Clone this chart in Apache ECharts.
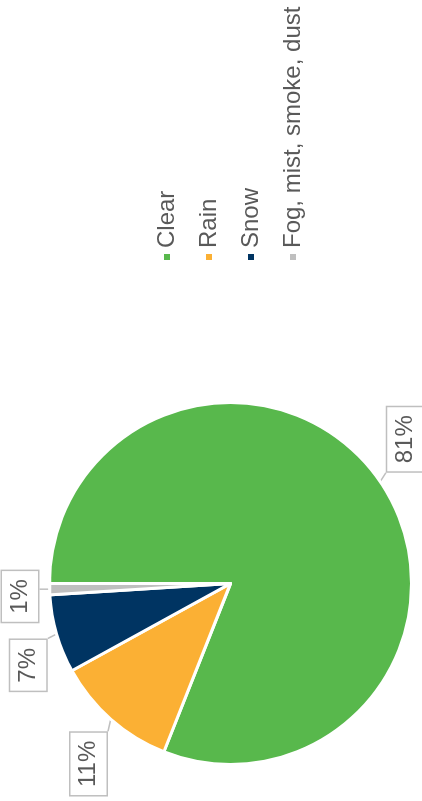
<!DOCTYPE html>
<html>
<head>
<meta charset="utf-8">
<script src="https://cdn.jsdelivr.net/npm/echarts@6/dist/echarts.min.js"></script>
<style>
  html, body { margin: 0; padding: 0; background: #ffffff; overflow: hidden; }
  #page { position: relative; width: 422px; height: 801px; overflow: hidden; }
  /* The chart is laid out landscape and turned a quarter turn counter-clockwise */
  #chart {
    position: absolute; left: 0; top: 0;
    width: 801px; height: 422px;
    transform-origin: 0 0;
    transform: translate(0, 801px) rotate(-90deg);
  }
</style>
</head>
<body>
<div id="page"><div id="chart"></div></div>
<script>
// Weather conditions, share of cases (%)
const categories = ['Clear', 'Rain', 'Snow', 'Fog, mist, smoke, dust'];
const shares = [81, 11, 7, 1];
const sliceColors = ['#58b84c', '#fbb034', '#003462', '#bfbfbf'];

const FONT = '"Liberation Sans", Arial, Helvetica, sans-serif';
const TEXT_COLOR = '#595959';

// Place each value box as a callout just outside its slice, with a short tail back to the rim
function placeCallout(p) {
  const pts = p.labelLinePoints;
  if (!pts || pts.length < 2) return {};
  const P = pts[0];
  let dx = pts[1][0] - P[0];
  let dy = pts[1][1] - P[1];
  const len = Math.hypot(dx, dy) || 1;
  dx /= len; dy /= len;
  const hw = p.labelRect.width / 2;
  const hh = p.labelRect.height / 2;
  const cx = P[0] + Math.sign(dx) * hw * Math.min(1, 8 * Math.abs(dx)) + 16 * dx;
  const cy = P[1] + Math.sign(dy) * hh * Math.min(1, 4 * Math.abs(dy)) + 10 * dy * dy * dy;
  const qx = Math.max(cx - hw, Math.min(P[0], cx + hw));
  const qy = Math.max(cy - hh, Math.min(P[1], cy + hh));
  return {
    x: cx, y: cy, align: 'center', verticalAlign: 'middle',
    labelLinePoints: [[P[0], P[1]], [qx, qy]]
  };
}

const chart = echarts.init(document.getElementById('chart'), null, { renderer: 'canvas' });

chart.setOption({
  backgroundColor: '#ffffff',
  animation: false,
  color: sliceColors,
  textStyle: { fontFamily: FONT },
  legend: {
    orient: 'vertical',
    left: 539,
    top: 155,
    padding: 0,
    itemWidth: 8,
    itemHeight: 8,
    itemGap: 18,
    icon: 'rect',
    data: categories,
    textStyle: { color: TEXT_COLOR, fontSize: 24, lineHeight: 24, fontFamily: FONT }
  },
  series: [{
    type: 'pie',
    center: [217.5, 230.5],
    radius: 181,
    startAngle: 90,
    clockwise: true,
    avoidLabelOverlap: false,
    itemStyle: { borderColor: '#ffffff', borderWidth: 3 },
    label: {
      show: true,
      position: 'outside',
      formatter: '{c}%',
      color: TEXT_COLOR,
      fontSize: 24,
      lineHeight: 24,
      fontFamily: FONT,
      backgroundColor: '#ffffff',
      borderColor: '#bfbfbf',
      borderWidth: 1.5,
      padding: [6, 8]
    },
    labelLine: {
      show: true,
      length: 10,
      length2: 0,
      lineStyle: { color: '#bfbfbf', width: 1.5 }
    },
    labelLayout: placeCallout,
    emphasis: { disabled: true },
    data: categories.map((name, i) => ({ name: name, value: shares[i] }))
  }]
});
</script>
</body>
</html>
